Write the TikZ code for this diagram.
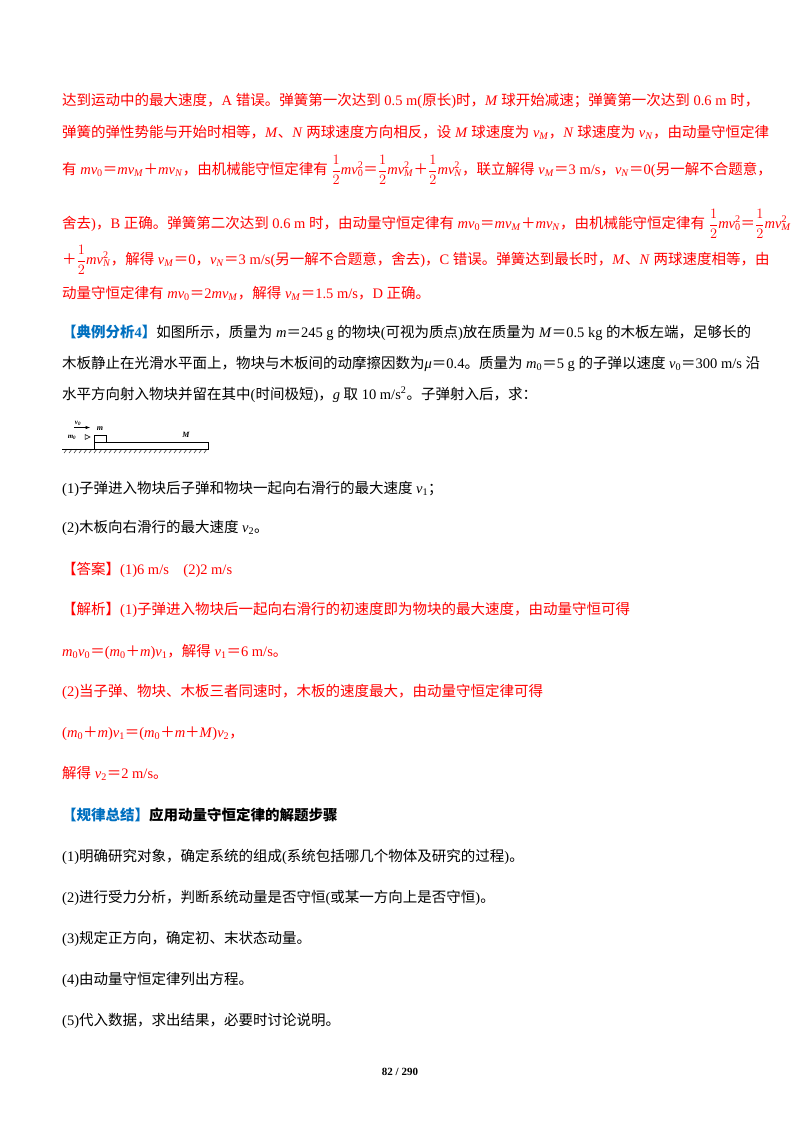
\documentclass[tikz,border=0pt]{standalone}
\usepackage{fontspec}
\setmainfont{Liberation Serif}
\newfontfamily\cjk{Noto Sans CJK SC}
\makeatletter
\XeTeXinterchartokenstate=1
\newXeTeXintercharclass\cjkclass
\count@="3000
\loop\ifnum\count@<"A000 \XeTeXcharclass\count@=\cjkclass \advance\count@ by 1 \repeat
\count@="FF00
\loop\ifnum\count@<"FFF0 \XeTeXcharclass\count@=\cjkclass \advance\count@ by 1 \repeat
\makeatother
\XeTeXinterchartoks 0 \cjkclass = {\begingroup\cjk}
\XeTeXinterchartoks 4095 \cjkclass = {\begingroup\cjk}
\XeTeXinterchartoks \cjkclass 0 = {\endgroup}
\XeTeXinterchartoks \cjkclass 4095 = {\endgroup}
\definecolor{rd}{RGB}{255,0,0}
\definecolor{bl}{RGB}{0,112,192}
\newcommand\vv[1]{\textit{v}\textsubscript{#1}}
\newcommand\vsq[1]{\textit{v}\rlap{\textsuperscript{2}}\textsubscript{#1}}
\newcommand\half{\raisebox{-0.05em}{$\displaystyle\frac{1}{2}$}}
\newcommand\mm{\textit{m}}
\begin{document}
\begin{tikzpicture}[x=1pt,y=-1pt,
  ln/.style={anchor=base west,inner sep=0pt,font=\fontsize{14.5}{17}\selectfont},
  rl/.style={ln,text=rd}]
\useasboundingbox[fill=white] (0,0) rectangle (800,1132);
\node[rl] (l1) at (62,105) {达到运动中的最大速度，A 错误。弹簧第一次达到 0.5 m(原长)时，\textit{M} 球开始减速；弹簧第一次达到 0.6 m 时，};
\node[rl] (l2) at (62,137) {弹簧的弹性势能与开始时相等，\textit{M}、\textit{N} 两球速度方向相反，设 \textit{M} 球速度为 \vv{\textit{M}}，\textit{N} 球速度为 \vv{\textit{N}}，由动量守恒定律};
\node[rl] (l3) at (62,174) {有 \mm\vv{0}＝\mm\vv{\textit{M}}＋\mm\vv{\textit{N}}，由机械能守恒定律有 \half\mm\vsq{0}＝\half\mm\vsq{\textit{M}}＋\half\mm\vsq{\textit{N}}，联立解得 \vv{\textit{M}}＝3 m/s，\vv{\textit{N}}＝0(另一解不合题意，};
\node[rl] (l4) at (62,228) {舍去)，B 正确。弹簧第二次达到 0.6 m 时，由动量守恒定律有 \mm\vv{0}＝\mm\vv{\textit{M}}＋\mm\vv{\textit{N}}，由机械能守恒定律有 \half\mm\vsq{0}＝\half\mm\vsq{\textit{M}}};
\node[rl] (l5) at (62,264) {＋\half\mm\vsq{\textit{N}}，解得 \vv{\textit{M}}＝0，\vv{\textit{N}}＝3 m/s(另一解不合题意，舍去)，C 错误。弹簧达到最长时，\textit{M}、\textit{N} 两球速度相等，由};
\node[rl] (l6) at (62,298) {动量守恒定律有 \mm\vv{0}＝2\mm\vv{\textit{M}}，解得 \vv{\textit{M}}＝1.5 m/s，D 正确。};
\node[ln] (l7) at (62,337) {\textcolor{bl}{\bfseries 【典例分析4】}如图所示，质量为 \mm＝245 g 的物块(可视为质点)放在质量为 \textit{M}＝0.5 kg 的木板左端，足够长的};
\node[ln] (l8) at (62,368) {木板静止在光滑水平面上，物块与木板间的动摩擦因数为\textit{μ}＝0.4。质量为 \mm\textsubscript{0}＝5 g 的子弹以速度 \vv{0}＝300 m/s 沿};
\node[ln] (l9) at (62,399) {水平方向射入物块并留在其中(时间极短)，\textit{g} 取 10 m/s\textsuperscript{2}。子弹射入后，求：};
% diagram
\draw[line width=0.6pt] (62,449) -- (208,449);
\foreach \i in {0,...,28} \draw[line width=0.4pt] (64+5*\i,453) -- (67+5*\i,449);
\draw[line width=0.6pt] (94,442) rectangle (208,449);
\draw[line width=0.6pt] (94,435) rectangle (106,442);
\node[font=\fontsize{8}{9}\selectfont\bfseries\itshape,inner sep=0pt] (lm) at (100,429) {m};
\node[font=\fontsize{8}{9}\selectfont\bfseries\itshape,inner sep=0pt] (lM) at (186,435) {M};
\node[font=\fontsize{7}{8}\selectfont\bfseries\itshape,inner sep=0pt] (lv) at (78,423) {v\textsubscript{0}};
\node[font=\fontsize{7}{8}\selectfont\bfseries\itshape,inner sep=0pt] (lm0) at (72,437) {m\textsubscript{0}};
\draw[-latex,line width=0.5pt] (74,427.5) -- (90,427.5);
\draw[line width=0.5pt] (85,434.5) -- (90,437) -- (85,439.5) -- cycle;
\node[ln] (l10) at (62,493) {(1)子弹进入物块后子弹和物块一起向右滑行的最大速度 \vv{1}；};
\node[ln] (l11) at (62,532) {(2)木板向右滑行的最大速度 \vv{2}。};
\node[rl] (l12) at (62,574) {【答案】(1)6 m/s\quad(2)2 m/s};
\node[rl] (l13) at (62,614) {【解析】(1)子弹进入物块后一起向右滑行的初速度即为物块的最大速度，由动量守恒可得};
\node[rl] (l14) at (62,656) {\mm\textsubscript{0}\vv{0}＝(\mm\textsubscript{0}＋\mm)\vv{1}，解得 \vv{1}＝6 m/s。};
\node[rl] (l15) at (62,696) {(2)当子弹、物块、木板三者同速时，木板的速度最大，由动量守恒定律可得};
\node[rl] (l16) at (62,737) {(\mm\textsubscript{0}＋\mm)\vv{1}＝(\mm\textsubscript{0}＋\mm＋\textit{M})\vv{2}，};
\node[rl] (l17) at (62,778) {解得 \vv{2}＝2 m/s。};
\node[ln,font=\fontsize{14.5}{17}\selectfont\bfseries] (l18) at (62,820) {\textcolor{bl}{【规律总结】}应用动量守恒定律的解题步骤};
\node[ln] (l19) at (62,861) {(1)明确研究对象，确定系统的组成(系统包括哪几个物体及研究的过程)。};
\node[ln] (l20) at (62,902) {(2)进行受力分析，判断系统动量是否守恒(或某一方向上是否守恒)。};
\node[ln] (l21) at (62,943) {(3)规定正方向，确定初、末状态动量。};
\node[ln] (l22) at (62,984) {(4)由动量守恒定律列出方程。};
\node[ln] (l23) at (62,1025) {(5)代入数据，求出结果，必要时讨论说明。};
\node[font=\fontsize{11}{12}\selectfont\bfseries,inner sep=0pt] (pg) at (400,1072) {82 / 290};
\end{tikzpicture}
\end{document}
